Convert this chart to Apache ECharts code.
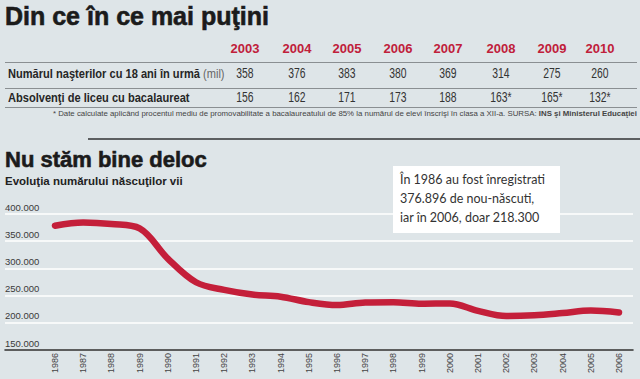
<!DOCTYPE html>
<html>
<head>
<meta charset="utf-8">
<script src="https://cdn.jsdelivr.net/npm/echarts@6/dist/echarts.min.js"></script>
<style>
  html, body { margin:0; padding:0; }
  body { width:640px; height:379px; overflow:hidden; background:#dee5e8; position:relative;
         font-family: "Liberation Sans", Arial, sans-serif; }
  #chart { position:absolute; left:0; top:0; width:640px; height:379px; }
  .abs { position:absolute; white-space:nowrap; }
  .title { font-family:"Liberation Sans", Arial, sans-serif; font-weight:bold; color:#1b1b1b; }
  .heavy { -webkit-text-stroke:0.6px #1b1b1b; }
  .yr { font-weight:bold; color:#c0203a; font-size:13px; width:50px; text-align:center; }
  .val { color:#333; font-size:14px; width:50px; text-align:center; transform:scaleX(0.74); }
  .rowlab { font-weight:bold; color:#262626; font-size:13.5px; transform:scaleX(0.82); transform-origin:0 50%; }
  .rowlab span { font-weight:normal; color:#666; }
  .hline { position:absolute; left:5px; width:632px; height:1px; background:#8a8f92; }
  .note { font-size:8px; color:#444; right:3px; transform:scaleX(0.98); transform-origin:100% 50%; }
  .box { position:absolute; left:393px; top:166px; width:167px; height:67px; background:#fff; }
  .box div { font-family:"Lato", "Noto Sans", sans-serif; font-size:12.5px; color:#333; line-height:19px; }
</style>
</head>
<body>
<div id="chart"></div>
<div id="overlay"></div>
<script>
// ---- data ----
var tableYears = ['2003', '2004', '2005', '2006', '2007', '2008', '2009', '2010'];
var birthsEighteenYearsBefore = ['358', '376', '383', '380', '369', '314', '275', '260'];
var graduatesBac = ['156', '162', '171', '173', '188', '163*', '165*', '132*'];

var years = ['1986','1987','1988','1989','1990','1991','1992','1993','1994','1995','1996',
             '1997','1998','1999','2000','2001','2002','2003','2004','2005','2006'];
var liveBirths = [378500, 384500, 381500, 373500, 318000, 274500, 260500, 252000, 248000, 238000, 232500,
                  237500, 238000, 235000, 235500, 222000, 212500, 214000, 218000, 222500, 219000];
var yTicks = [150000, 200000, 250000, 300000, 350000, 400000];

// ---- overlay text (table, titles, annotation) ----
var colCenters = [245, 297, 347, 398, 448, 501, 552, 600];
var ov = document.getElementById('overlay');
function add(html, cls, style) {
  var d = document.createElement('div');
  d.className = cls;
  d.setAttribute('style', style);
  d.innerHTML = html;
  ov.appendChild(d);
  return d;
}
add('Din ce în ce mai puţini', 'abs title heavy', 'left:5px;top:2px;font-size:25px;');
tableYears.forEach(function (y, i) {
  add(y, 'abs yr', 'left:' + (colCenters[i] - 25) + 'px;top:41px;');
});
add('', 'hline', 'top:62px;');
add('Numărul naşterilor cu 18 ani în urmă <span>(mil)</span>', 'abs rowlab', 'left:8px;top:66px;');
birthsEighteenYearsBefore.forEach(function (v, i) {
  add(v, 'abs val', 'left:' + (colCenters[i] - 25) + 'px;top:65px;');
});
add('', 'hline', 'top:88px;');
add('Absolvenţi de liceu cu bacalaureat', 'abs rowlab', 'left:8px;top:90px;');
graduatesBac.forEach(function (v, i) {
  add(v, 'abs val', 'left:' + (colCenters[i] - 25) + 'px;top:89px;');
});
add('', 'hline', 'top:107px;');
add('* Date calculate aplicând procentul mediu de promovabilitate a bacalaureatului de 85% la numărul de elevi înscrişi în clasa a XII-a. SURSA: <b>INS şi Ministerul Educaţiei</b>',
    'abs note', 'top:109px;');
add('', 'abs', 'left:88px;top:138px;width:552px;height:2px;background:#5c5f61;');
add('Nu stăm bine deloc', 'abs title heavy', 'left:5px;top:147px;font-size:22px;');
add('Evoluţia numărului născuţilor vii', 'abs title', 'left:5px;top:175px;font-size:11.5px;color:#222;');
add('<div>În 1986 au fost înregistrati</div><div>376.896 de nou-născuti,</div><div>iar în 2006, doar 218.300</div>',
    'box', 'padding:4px 0 0 7px;box-sizing:border-box;');

// ---- chart ----
var font = '"Liberation Sans", Arial, sans-serif';
var chart = echarts.init(document.getElementById('chart'), null, { renderer: 'svg' });
chart.setOption({
  backgroundColor: 'transparent',
  animation: false,
  grid: [
    { left: 55, right: 21, top: 214, bottom: 29 },
    { left: 5, right: 7, top: 214, bottom: 29 }
  ],
  xAxis: [
    {
      type: 'category', gridIndex: 0, data: years, boundaryGap: false,
      axisLine: { show: false }, axisTick: { show: false },
      axisLabel: { rotate: 90, margin: 3, fontSize: 9, color: '#444', fontFamily: font, interval: 0 }
    },
    {
      type: 'value', gridIndex: 1, min: 0, max: 1,
      axisLine: { show: true, onZero: false, lineStyle: { color: '#2a2a2a', width: 1.5 } },
      axisTick: { show: false }, axisLabel: { show: false }, splitLine: { show: false }
    }
  ],
  yAxis: [
    {
      type: 'value', gridIndex: 0, min: yTicks[0], max: yTicks[yTicks.length - 1],
      axisLine: { show: false }, axisTick: { show: false }, axisLabel: { show: false }, splitLine: { show: false }
    },
    {
      type: 'value', gridIndex: 1, min: yTicks[0], max: yTicks[yTicks.length - 1], interval: 50000,
      axisLine: { show: false }, axisTick: { show: false },
      splitLine: { show: true, lineStyle: { color: '#ffffff', width: 1.5 } },
      axisLabel: {
        inside: true, margin: 0, verticalAlign: 'bottom', padding: [0, 0, 2, 0],
        fontSize: 9.5, color: '#3a3a3a', fontFamily: font,
        formatter: function (v) { return String(v / 1000) + '.000'; }
      }
    }
  ],
  series: [
    {
      type: 'line', xAxisIndex: 0, yAxisIndex: 0, data: liveBirths, smooth: 0.35,
      showSymbol: false, symbol: 'none',
      lineStyle: { color: '#c41f3a', width: 6.5, cap: 'round', join: 'round' },
      z: 5
    }
  ]
});
</script>
</body>
</html>
